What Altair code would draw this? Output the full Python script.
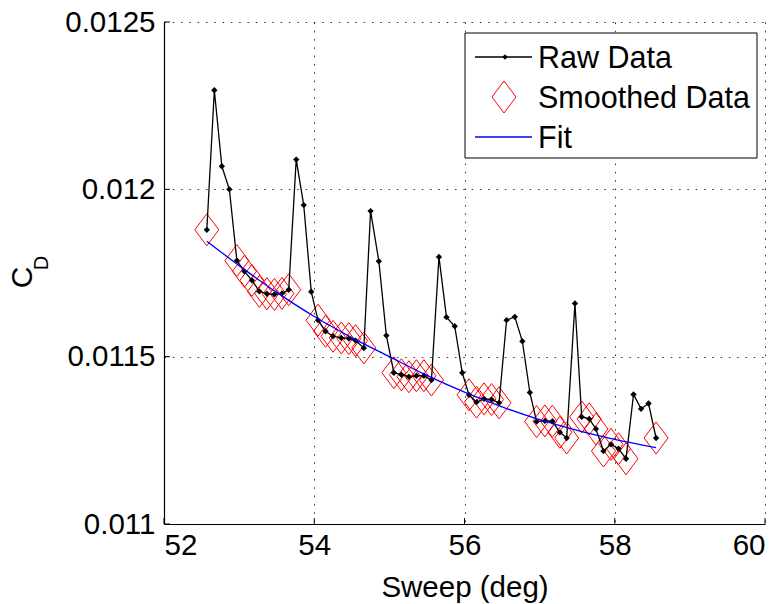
import altair as alt
import pandas as pd

# ---- data ----
sweep = [52.57, 52.67, 52.77, 52.87, 52.97, 53.07, 53.17, 53.27, 53.37, 53.47,
         53.57, 53.66, 53.76, 53.86, 53.96, 54.05, 54.15, 54.25, 54.36, 54.46,
         54.55, 54.66, 54.75, 54.86, 54.96, 55.06, 55.16, 55.26, 55.36, 55.46,
         55.56, 55.66, 55.76, 55.87, 55.97, 56.06, 56.16, 56.26, 56.36, 56.46,
         56.56, 56.67, 56.77, 56.87, 56.96, 57.07, 57.17, 57.27, 57.36, 57.47,
         57.56, 57.66, 57.75, 57.85, 57.95, 58.05, 58.15, 58.25, 58.35, 58.45,
         58.55]
cd_raw = [0.011879, 0.012296, 0.012069, 0.012000, 0.011787, 0.011755, 0.011728, 0.011695, 0.011688, 0.011686,
          0.011689, 0.011700, 0.012089, 0.011953, 0.011694, 0.011609, 0.011576, 0.011561, 0.011556, 0.011554,
          0.011548, 0.011526, 0.011935, 0.011785, 0.011563, 0.011452, 0.011446, 0.011440, 0.011443, 0.011443,
          0.011430, 0.011798, 0.011618, 0.011591, 0.011452, 0.011386, 0.011364, 0.011374, 0.011372, 0.011362,
          0.011609, 0.011619, 0.011546, 0.011393, 0.011306, 0.011308, 0.011307, 0.011274, 0.011257, 0.011659,
          0.011320, 0.011314, 0.011284, 0.011218, 0.011238, 0.011225, 0.011195, 0.011387, 0.011344, 0.011360,
          0.011257]

smooth_sweep = [52.57,
                52.97, 53.07, 53.17, 53.27, 53.37, 53.47, 53.57, 53.66,
                54.05, 54.15, 54.25, 54.36, 54.46, 54.55, 54.66,
                55.06, 55.16, 55.26, 55.36, 55.46, 55.56,
                56.06, 56.16, 56.26, 56.36, 56.46,
                56.96, 57.07, 57.17, 57.27, 57.36,
                57.56, 57.66, 57.75, 57.85, 57.95, 58.05, 58.15,
                58.55]
smooth_cd = [0.011879,
             0.011787, 0.011755, 0.011728, 0.011695, 0.011688, 0.011686, 0.011689, 0.011700,
             0.011609, 0.011576, 0.011561, 0.011556, 0.011554, 0.011548, 0.011526,
             0.011452, 0.011446, 0.011440, 0.011443, 0.011443, 0.011430,
             0.011386, 0.011364, 0.011374, 0.011372, 0.011362,
             0.011306, 0.011308, 0.011307, 0.011274, 0.011257,
             0.011320, 0.011314, 0.011284, 0.011218, 0.011238, 0.011225, 0.011195,
             0.011257]

fit_sweep = [52.57, 53.0, 53.5, 54.0, 54.5, 55.0, 55.5, 56.0, 56.5, 57.0, 57.5, 58.0, 58.55]
fit_cd = [0.011845, 0.011772, 0.011692, 0.011620, 0.011557, 0.011500, 0.011444,
          0.011394, 0.011350, 0.011312, 0.011280, 0.011253, 0.011228]

x_ticks = [52, 54, 56, 58, 60]
y_ticks = [0.011, 0.0115, 0.012, 0.0125]

legend_labels = ["Raw Data", "Smoothed Data", "Fit"]

# ---- layout ----
W, H = 601, 502
FONT = "Liberation Sans"
FS = 29.5
LFS = 30.5
DIAMOND = "M0,-1L0.75,0L0,1L-0.75,0Z"

xs = alt.Scale(domain=[52, 60], nice=False, zero=False)
ys = alt.Scale(domain=[0.011, 0.0125], nice=False, zero=False)

x_axis = alt.Axis(values=x_ticks, format="d", grid=True, ticks=False,
                  labelPadding=7, labelBaseline="top", title="Sweep (deg)",
                  titleY=72, titleBaseline="alphabetic")
y_axis = alt.Axis(values=y_ticks, format="~g", grid=True, ticks=False,
                  labelPadding=9, labelBaseline="middle", title="")

X = lambda f: alt.X(f + ":Q", scale=xs, axis=x_axis)
Y = lambda f: alt.Y(f + ":Q", scale=ys, axis=y_axis)

raw_df = pd.DataFrame({"sweep": sweep, "cd": cd_raw})
smooth_df = pd.DataFrame({"sweep": smooth_sweep, "cd": smooth_cd})
fit_df = pd.DataFrame({"sweep": fit_sweep, "cd": fit_cd})
one = pd.DataFrame({"k": [0]})

raw_line = alt.Chart(raw_df).mark_line(color="black", strokeWidth=1.3).encode(x=X("sweep"), y=Y("cd"))
raw_pts = alt.Chart(raw_df).mark_point(shape="diamond", filled=True, color="black", size=40, opacity=1).encode(
    x=X("sweep"), y=Y("cd"))
smooth = alt.Chart(smooth_df).mark_point(shape=DIAMOND, filled=False, color="#ff0000", size=1024,
                                         strokeWidth=1, opacity=1).encode(x=X("sweep"), y=Y("cd"))
fit = alt.Chart(fit_df).mark_line(color="#0000ff", strokeWidth=1.3, interpolate="monotone").encode(
    x=X("sweep"), y=Y("cd"))

xt = alt.Chart(pd.DataFrame({"t": x_ticks})).mark_rule(color="black", strokeWidth=1).encode(
    x=X("t"), y=alt.value(H), y2=alt.value(H - 6))
yt = alt.Chart(pd.DataFrame({"t": y_ticks})).mark_rule(color="black", strokeWidth=1).encode(
    y=Y("t"), x=alt.value(0), x2=alt.value(6))

# y-axis title C_D
c_txt = alt.Chart(one).mark_text(angle=270, align="center", baseline="middle", font=FONT,
                                 fontSize=30, color="black").encode(
    x=alt.value(-141.5), y=alt.value(255.5), text=alt.value("C"))
d_txt = alt.Chart(one).mark_text(angle=270, align="center", baseline="middle", font=FONT,
                                 fontSize=20, color="black").encode(
    x=alt.value(-122), y=alt.value(241), text=alt.value("D"))

# legend
leg_box = alt.Chart(one).mark_rect(fill="white", stroke="black", strokeWidth=1).encode(
    x=alt.value(301), x2=alt.value(593), y=alt.value(11), y2=alt.value(136))
leg_raw = alt.Chart(one).mark_rule(color="black", strokeWidth=1.3).encode(
    x=alt.value(311), x2=alt.value(368), y=alt.value(35))
leg_raw_pt = alt.Chart(one).mark_point(shape="diamond", filled=True, color="black", size=30, opacity=1).encode(
    x=alt.value(341), y=alt.value(35))
leg_sm = alt.Chart(one).mark_point(shape=DIAMOND, filled=False, color="#ff0000", size=1024,
                                   strokeWidth=1, opacity=1).encode(x=alt.value(340), y=alt.value(75))
leg_fit = alt.Chart(one).mark_rule(color="#0000ff", strokeWidth=1.3).encode(
    x=alt.value(311), x2=alt.value(368), y=alt.value(115))
leg_texts = [
    alt.Chart(one).mark_text(align="left", baseline="alphabetic", font=FONT, fontSize=LFS, color="black").encode(
        x=alt.value(374), y=alt.value(46 + 40 * i), text=alt.value(lbl))
    for i, lbl in enumerate(legend_labels)
]

chart = alt.layer(
    xt, yt, smooth, raw_line, raw_pts, fit, c_txt, d_txt,
    leg_box, leg_raw, leg_raw_pt, leg_sm, leg_fit, *leg_texts
).properties(
    width=W, height=H,
    autosize=alt.AutoSizeParams(type="none"),
    padding={"left": 164, "top": 22, "right": 19, "bottom": 80},
    background="white",
).configure_view(
    stroke="transparent"
).configure_axis(
    domainColor="black", domainWidth=1.2,
    gridColor="#333333", gridDash=[1.5, 6.8], gridWidth=1, gridOpacity=1,
    labelFont=FONT, labelFontSize=FS, labelColor="black",
    titleFont=FONT, titleFontSize=FS, titleColor="black", titleFontWeight="normal",
)

chart.save("out.html", embed_options={"renderer": "svg", "actions": False})
